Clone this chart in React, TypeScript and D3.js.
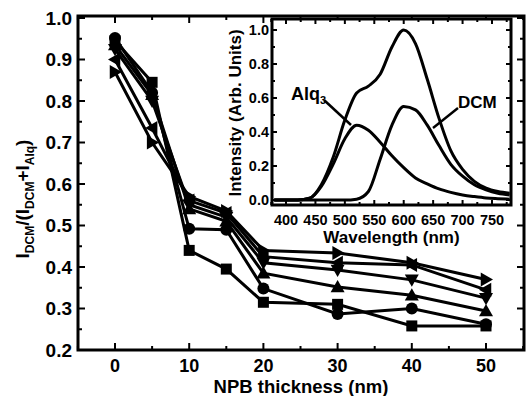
import React from "react";
import * as d3 from "d3";

// Main chart data
const thickness = [0, 5, 10, 15, 20, 30, 40, 50];
const seriesSquare = [0.945, 0.845, 0.44, 0.395, 0.315, 0.31, 0.258, 0.258];
const seriesCircle = [0.952, 0.82, 0.492, 0.49, 0.348, 0.287, 0.3, 0.262];
const seriesUp = [0.935, 0.815, 0.54, 0.51, 0.385, 0.352, 0.332, 0.294];
const seriesDown = [0.925, 0.8, 0.55, 0.52, 0.41, 0.393, 0.369, 0.325];
const seriesLeft = [0.9, 0.735, 0.56, 0.53, 0.425, 0.41, 0.405, 0.345];
const seriesRight = [0.87, 0.7, 0.57, 0.535, 0.44, 0.434, 0.41, 0.37];
const markerTypes = ["square", "circle", "up", "down", "left", "right"];
const xTicks = [0, 10, 20, 30, 40, 50];
const yTicks = [0.2, 0.3, 0.4, 0.5, 0.6, 0.7, 0.8, 0.9, 1.0];

// Inset data
const wavelength = [380, 400, 420, 440, 460, 480, 500, 520, 540, 560, 580, 600, 620, 640, 660, 680, 700, 720, 740, 760, 780];
const totalPL = [0, 0, 0, 0.01, 0.09, 0.25, 0.47, 0.63, 0.67, 0.74, 0.9, 1.0, 0.92, 0.71, 0.48, 0.29, 0.18, 0.11, 0.07, 0.05, 0.04];
const alqPL = [0, 0, 0, 0.01, 0.08, 0.21, 0.36, 0.44, 0.41, 0.34, 0.26, 0.19, 0.13, 0.095, 0.065, 0.045, 0.03, 0.02, 0.012, 0.008, 0.005];
const dcmPL = [0, 0, 0, 0, 0, 0, 0, 0.005, 0.05, 0.24, 0.44, 0.55, 0.53, 0.44, 0.32, 0.21, 0.14, 0.09, 0.06, 0.04, 0.03];
const insetXTicks = [400, 450, 500, 550, 600, 650, 700, 750];
const insetYTicks = [0.0, 0.2, 0.4, 0.6, 0.8, 1.0];

const FONT = "'Liberation Sans', Arial, sans-serif";

function Marker({ type, cx, cy }: { type: string; cx: number; cy: number }) {
  if (type === "square") return <rect x={cx - 5.5} y={cy - 5.5} width={11} height={11} fill="#000" />;
  if (type === "circle") return <circle cx={cx} cy={cy} r={6} fill="#000" />;
  let pts: number[][] = [];
  const t = 7;
  if (type === "up") pts = [[cx, cy - t], [cx - t, cy + t * 0.75], [cx + t, cy + t * 0.75]];
  if (type === "down") pts = [[cx, cy + t], [cx - t, cy - t * 0.75], [cx + t, cy - t * 0.75]];
  if (type === "left") pts = [[cx - t, cy], [cx + t * 0.75, cy - t], [cx + t * 0.75, cy + t]];
  if (type === "right") pts = [[cx + t, cy], [cx - t * 0.75, cy - t], [cx - t * 0.75, cy + t]];
  return <polygon points={pts.map((p) => p.join(",")).join(" ")} fill="#000" />;
}

export default function App() {
  const W = 532, H = 396;
  // main frame
  const L = 78, R = 524, T = 16, B = 350;
  const x = d3.scaleLinear().domain([0, 50]).range([115, 486]);
  const y = d3.scaleLinear().domain([0.2, 1.0]).range([350, 18]);
  const allSeries = [seriesSquare, seriesCircle, seriesUp, seriesDown, seriesLeft, seriesRight];
  const line = d3.line<number>().x((_, i) => x(thickness[i])).y((d) => y(d));

  const xMinor = d3.range(-5, 56, 5);
  const yMinor = d3.range(0.2, 1.001, 0.05);

  // inset
  const iL = 272, iR = 511, iT = 19, iB = 205;
  const ix = d3.scaleLinear().domain([400, 750]).range([286, 492]);
  const iy = d3.scaleLinear().domain([0, 1]).range([200, 30]);
  const iline = (vals: number[]) =>
    d3.line<number>().x((_, i) => ix(wavelength[i])).y((d) => iy(d)).curve(d3.curveMonotoneX)(vals) || "";
  const ixMinor = d3.range(375, 781, 25);
  const iyMinor = d3.range(0, 1.06, 0.1);

  return (
    <svg width={W} height={H} style={{ position: "absolute", left: 0, top: 0, background: "#fff" }} fontFamily={FONT} fontWeight="bold">
      <rect width={W} height={H} fill="#fff" />
      <defs>
        <clipPath id="mainClip"><rect x={L} y={T} width={R - L} height={B - T} /></clipPath>
        <clipPath id="insetClip"><rect x={iL} y={iT} width={iR - iL} height={iB - iT} /></clipPath>
      </defs>
      {/* main ticks */}
      {xMinor.map((v) => {
        const major = v % 10 === 0;
        const len = major ? 7 : 4;
        return (
          <g key={"xm" + v}>
            <line x1={x(v)} x2={x(v)} y1={B} y2={B - len} stroke="#000" strokeWidth={2} />
            <line x1={x(v)} x2={x(v)} y1={T} y2={T + len} stroke="#000" strokeWidth={2} />
          </g>
        );
      })}
      {yMinor.map((v, i) => {
        const major = i % 2 === 0;
        const len = major ? 7 : 4;
        return (
          <g key={"ym" + i}>
            <line x1={L} x2={L + len} y1={y(v)} y2={y(v)} stroke="#000" strokeWidth={2} />
            <line x1={R} x2={R - len} y1={y(v)} y2={y(v)} stroke="#000" strokeWidth={2} />
          </g>
        );
      })}
      {xTicks.map((v) => (
        <text key={"xt" + v} x={x(v)} y={372} textAnchor="middle" fontSize={18}>{v}</text>
      ))}
      {yTicks.map((v) => (
        <text key={"yt" + v} x={72} y={y(v) + 6.5} textAnchor="end" fontSize={19}>{v.toFixed(1)}</text>
      ))}
      <text x={301} y={393} textAnchor="middle" fontSize={18.5}>NPB thickness (nm)</text>
      <text transform="translate(29,199) rotate(-90)" textAnchor="middle" fontSize={19}>
        I<tspan fontSize={12} dy={5}>DCM</tspan>
        <tspan dy={-5}>/(I</tspan>
        <tspan fontSize={12} dy={5}>DCM</tspan>
        <tspan dy={-5}>+I</tspan>
        <tspan fontSize={12} dy={5}>Alq</tspan>
        <tspan dy={-5}>)</tspan>
      </text>
      {/* data */}
      <g clipPath="url(#mainClip)">
        {allSeries.map((s, k) => (
          <path key={"l" + k} d={line(s) || ""} fill="none" stroke="#000" strokeWidth={3} />
        ))}
        {allSeries.map((s, k) =>
          s.map((v, i) => <Marker key={"m" + k + "-" + i} type={markerTypes[k]} cx={x(thickness[i])} cy={y(v)} />)
        )}
      </g>
      <rect x={L} y={T} width={R - L} height={B - T} fill="none" stroke="#000" strokeWidth={3} />

      {/* inset */}
      <rect x={iL} y={iT} width={iR - iL} height={iB - iT} fill="#fff" />
      <g clipPath="url(#insetClip)">
        <path d={iline(totalPL)} fill="none" stroke="#000" strokeWidth={3} />
        <path d={iline(alqPL)} fill="none" stroke="#000" strokeWidth={3} />
        <path d={iline(dcmPL)} fill="none" stroke="#000" strokeWidth={3} />
      </g>
      {ixMinor.map((v) => {
        const major = v % 50 === 0;
        const len = major ? 5 : 3;
        return (
          <g key={"ixm" + v}>
            <line x1={ix(v)} x2={ix(v)} y1={iB} y2={iB - len} stroke="#000" strokeWidth={2} />
            <line x1={ix(v)} x2={ix(v)} y1={iT} y2={iT + len} stroke="#000" strokeWidth={2} />
          </g>
        );
      })}
      {iyMinor.map((v, i) => {
        const major = i % 2 === 0;
        const len = major ? 5 : 3;
        return (
          <g key={"iym" + i}>
            <line x1={iL} x2={iL + len} y1={iy(v)} y2={iy(v)} stroke="#000" strokeWidth={2} />
            <line x1={iR} x2={iR - len} y1={iy(v)} y2={iy(v)} stroke="#000" strokeWidth={2} />
          </g>
        );
      })}
      <rect x={iL} y={iT} width={iR - iL} height={iB - iT} fill="none" stroke="#000" strokeWidth={3} />
      {insetXTicks.map((v) => (
        <text key={"ixt" + v} x={ix(v)} y={225} textAnchor="middle" fontSize={14.5}>{v}</text>
      ))}
      {insetYTicks.map((v) => (
        <text key={"iyt" + v} x={269} y={iy(v) + 5} textAnchor="end" fontSize={14.5}>{v.toFixed(1)}</text>
      ))}
      <text x={391.5} y={243} textAnchor="middle" fontSize={17}>Wavelength (nm)</text>
      <text transform="translate(241,113) rotate(-90)" textAnchor="middle" fontSize={17}>Intensity (Arb. Units)</text>
      {/* annotations */}
      <text x={291} y={100} fontSize={18}>Alq<tspan fontSize={11} dy={4}>3</tspan></text>
      <line x1={324} y1={100} x2={351} y2={125} stroke="#000" strokeWidth={2.5} />
      <text x={458} y={108} fontSize={17}>DCM</text>
      <line x1={458} y1={108} x2={433} y2={128} stroke="#000" strokeWidth={2.5} />
    </svg>
  );
}
